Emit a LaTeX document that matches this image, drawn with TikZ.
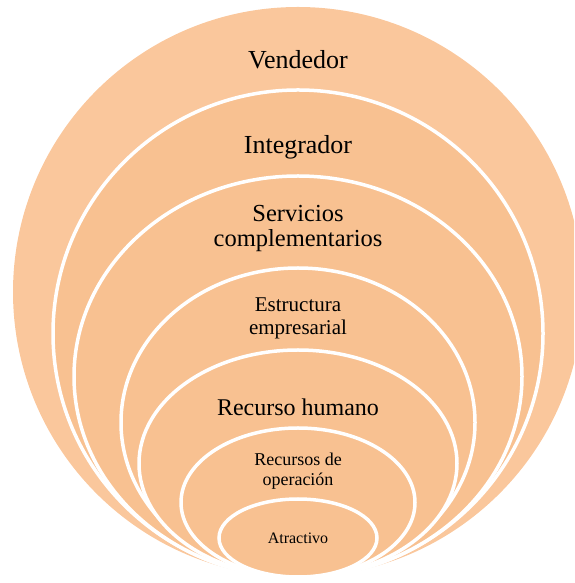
\documentclass[tikz,border=0pt]{standalone}
\usepackage{fontspec}
\setmainfont{Liberation Serif}
\definecolor{outerfill}{HTML}{FAC79C}
\definecolor{innerfill}{HTML}{F8C191}
\tikzset{
  ring/.style={fill=innerfill, draw=white, line width=3.5pt},
  outerring/.style={fill=outerfill, draw=none},
  lbl/.style={align=center, inner sep=0pt, text=black, font=#1},
  lbl/.default={\fontsize{24}{25}\selectfont}
}
\begin{document}
\begin{tikzpicture}[x=1pt,y=1pt]
\useasboundingbox (0,0) rectangle (574,583);
\clip (0,0) rectangle (574,583);
% image coordinates: y_tikz = 583 - y_img
\path[outerring] (298,291) ellipse [x radius=285, y radius=285];
\path[ring] (298,249.5) ellipse [x radius=245, y radius=243.5];
\path[ring] (298,206.5) ellipse [x radius=224, y radius=200.5];
\path[ring] (298,160.5) ellipse [x radius=177, y radius=154.5];
\path[ring] (298,119.5) ellipse [x radius=159, y radius=113.5];
\path[ring] (298,80.5) ellipse [x radius=117, y radius=74.5];
\path[ring] (298,45) ellipse [x radius=79, y radius=39];
\node[lbl={\fontsize{26}{28}\selectfont}] (vend) at (298,523) {Vendedor};
\node[lbl={\fontsize{26}{28}\selectfont}] (integ) at (298,436) {Integrador};
\node[lbl={\fontsize{24.5}{25}\selectfont}] (serv) at (298,354) {Servicios\\complementarios};
\node[lbl={\fontsize{21}{23}\selectfont}] (estr) at (298,265) {Estructura\\empresarial};
\node[lbl={\fontsize{24}{26}\selectfont}] (rh) at (298,176) {Recurso humano};
\node[lbl={\fontsize{18}{19.5}\selectfont}] (rop) at (298,112) {Recursos de\\operación};
\node[lbl={\fontsize{16}{18}\selectfont}] (atr) at (298,45) {Atractivo};
\end{tikzpicture}
\end{document}
